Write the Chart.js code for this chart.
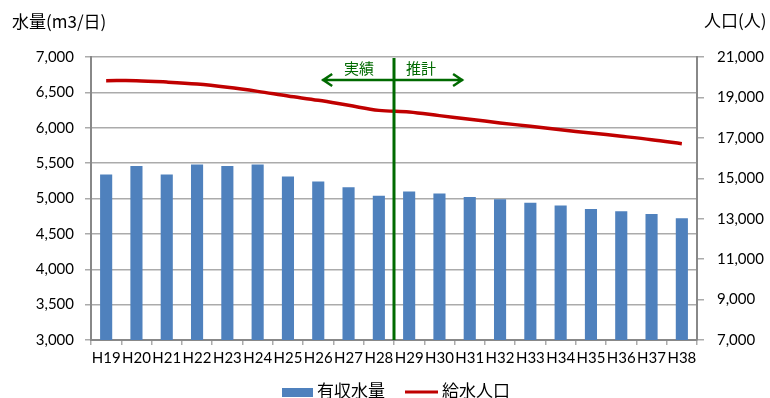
<!DOCTYPE html>
<html>
<head>
<meta charset="utf-8">
<script src="https://cdn.jsdelivr.net/npm/chart.js@4/dist/chart.umd.min.js"></script>
<style>
  html, body { margin: 0; padding: 0; background: #fff; }
  canvas { display: block; }
</style>
</head>
<body>
<canvas id="c" width="770" height="398"></canvas>
<script>
// Fiscal years (Heisei)
const categories = ['H19','H20','H21','H22','H23','H24','H25','H26','H27','H28',
                    'H29','H30','H31','H32','H33','H34','H35','H36','H37','H38'];
// 有収水量 (m3/日)
const revenueWater = [5340, 5460, 5340, 5480, 5460, 5480, 5310, 5240, 5160, 5040,
                      5100, 5070, 5020, 4990, 4940, 4900, 4850, 4820, 4780, 4720];
// 給水人口 (人)
const servedPopulation = [19830, 19830, 19760, 19660, 19500, 19300, 19070, 18860, 18610, 18360,
                          18280, 18100, 17920, 17740, 17570, 17400, 17240, 17080, 16910, 16710];
// Axis tick values
const volumeTicks = [3000, 3500, 4000, 4500, 5000, 5500, 6000, 6500, 7000];
const populationTicks = [7000, 9000, 11000, 13000, 15000, 17000, 19000, 21000];
// Text
const seriesNames = ['有収水量', '給水人口'];
const axisTitles = ['水量(m3/日)', '人口(人)'];
const periodLabels = ['実績', '推計'];
const lastActualIndex = 9; // H28: last actual year, forecast begins after it

const BLUE = '#4F81BD';
const RED = '#C00000';
const GREEN = '#006A00';
const GRID = '#ABABAB';
const AXIS = '#888888';
const CJK = "'Noto Sans CJK JP', sans-serif";
const LATIN = "Lato, 'Noto Sans CJK JP', sans-serif";

const fmt = v => Number(v).toLocaleString('en-US');

const decorations = {
  id: 'decorations',
  afterDatasetsDraw(chart) {
    const { ctx, chartArea: a, scales: { x } } = chart;
    const step = x.getPixelForValue(1) - x.getPixelForValue(0);
    const bx = (x.getPixelForValue(lastActualIndex) + x.getPixelForValue(lastActualIndex + 1)) / 2;
    ctx.save();
    // boundary between actual and forecast
    ctx.strokeStyle = GREEN;
    ctx.lineWidth = 3;
    ctx.beginPath();
    ctx.moveTo(bx, a.top + 1);
    ctx.lineTo(bx, a.bottom);
    ctx.stroke();
    // double arrow
    const ay = a.top + 23;
    const lx = bx - step * 2.37;
    const rx = bx + step * 2.28;
    ctx.lineWidth = 2.5;
    ctx.beginPath();
    ctx.moveTo(lx, ay); ctx.lineTo(rx, ay);
    ctx.moveTo(lx + 10, ay - 6); ctx.lineTo(lx + 1, ay); ctx.lineTo(lx + 10, ay + 6);
    ctx.moveTo(rx - 10, ay - 6); ctx.lineTo(rx - 1, ay); ctx.lineTo(rx - 10, ay + 6);
    ctx.stroke();
    ctx.fillStyle = GREEN;
    ctx.font = '15px ' + CJK;
    ctx.textAlign = 'center';
    ctx.textBaseline = 'middle';
    ctx.fillText(periodLabels[0], bx - 35, ay - 12);
    ctx.fillText(periodLabels[1], bx + 27, ay - 12);
    ctx.restore();
  },
  afterDraw(chart) {
    const { ctx } = chart;
    ctx.save();
    ctx.fillStyle = '#000';
    ctx.textBaseline = 'middle';
    ctx.textAlign = 'left';
    ctx.font = '17px ' + CJK;
    ctx.fillText(axisTitles[0], 12, 22);
    ctx.fillText(axisTitles[1], 704, 21);
    // legend
    ctx.fillStyle = BLUE;
    ctx.fillRect(282, 388, 31, 9);
    ctx.strokeStyle = RED;
    ctx.lineWidth = 3;
    ctx.beginPath();
    ctx.moveTo(405, 392); ctx.lineTo(438, 392);
    ctx.stroke();
    ctx.fillStyle = '#000';
    ctx.fillText(seriesNames[0], 317, 391);
    ctx.fillText(seriesNames[1], 442, 391);
    ctx.restore();
  }
};

new Chart(document.getElementById('c'), {
  data: {
    labels: categories,
    datasets: [
      {
        type: 'line',
        label: seriesNames[1],
        data: servedPopulation,
        yAxisID: 'y1',
        borderColor: RED,
        borderWidth: 3.5,
        pointRadius: 0,
        tension: 0.35,
        fill: false,
        order: 0
      },
      {
        type: 'bar',
        label: seriesNames[0],
        data: revenueWater,
        yAxisID: 'y',
        backgroundColor: BLUE,
        categoryPercentage: 1,
        barPercentage: 0.4,
        order: 1
      }
    ]
  },
  options: {
    responsive: false,
    animation: false,
    devicePixelRatio: 1,
    layout: { padding: { top: 57, left: 0, right: 0, bottom: 0 } },
    plugins: { legend: { display: false }, tooltip: { enabled: false } },
    font: { family: LATIN },
    scales: {
      x: {
        offset: true,
        grid: { offset: true, drawOnChartArea: false, color: GRID, tickLength: 5, lineWidth: 1.5 },
        border: { color: AXIS, width: 2 },
        ticks: { color: '#000', font: { family: LATIN, size: 15 }, padding: 4, maxRotation: 0, autoSkip: false },
        afterFit: s => { s.height = 58; }
      },
      y: {
        position: 'left',
        min: volumeTicks[0],
        max: volumeTicks[volumeTicks.length - 1],
        afterBuildTicks: s => { s.ticks = volumeTicks.map(v => ({ value: v })); },
        grid: { color: GRID, lineWidth: 1.5, tickLength: 6 },
        border: { color: AXIS, width: 2 },
        ticks: { color: '#000', font: { family: LATIN, size: 15 }, padding: 11, callback: fmt },
        afterFit: s => { s.width = 91; }
      },
      y1: {
        position: 'right',
        min: populationTicks[0],
        max: populationTicks[populationTicks.length - 1],
        afterBuildTicks: s => { s.ticks = populationTicks.map(v => ({ value: v })); },
        grid: { drawOnChartArea: false, color: GRID, lineWidth: 1.5, tickLength: 7 },
        border: { color: AXIS, width: 2 },
        ticks: { color: '#000', font: { family: LATIN, size: 15 }, padding: 13, callback: fmt },
        afterFit: s => { s.width = 73; }
      }
    }
  },
  plugins: [decorations]
});
</script>
</body>
</html>
